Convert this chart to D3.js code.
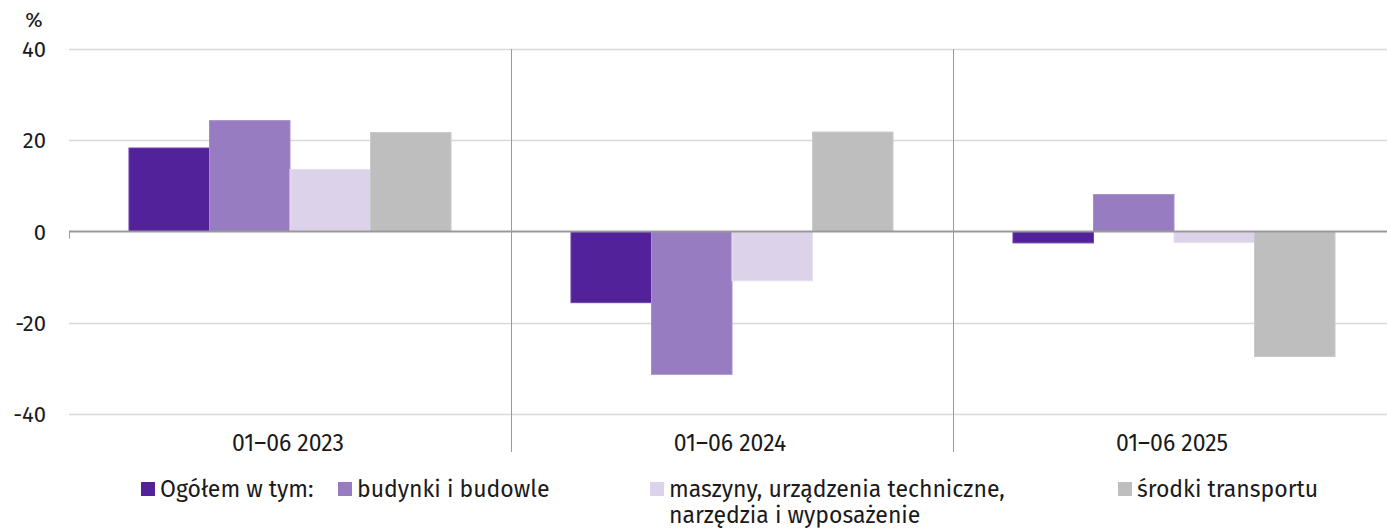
<!DOCTYPE html>
<html>
<head>
<meta charset="utf-8">
<script src="https://cdn.jsdelivr.net/npm/d3@7"></script>
<style>
  body { margin: 0; background: #fff; }
  text { font-family: "Fira Sans", Roboto, "Noto Sans", sans-serif; fill: #1a1a1a; }
</style>
</head>
<body>
<div id="chart"></div>
<script>
// data
let categories = ["01\u201306 2023", "01\u201306 2024", "01\u201306 2025"];
let seriesNames = ["Ogółem w tym:", "budynki i budowle", "maszyny, urządzenia techniczne,|narzędzia i wyposażenie", "środki transportu"];
let ogolem = [18.3, -15.6, -2.5];
let budynki = [24.3, -31.3, 8.1];
let maszyny = [13.6, -10.8, -2.4];
let transport = [21.7, 21.8, -27.4];
let yTicks = [-40, -20, 0, 20, 40];

let colors = ["#52229a", "#977cc1", "#dcd3ea", "#bebebe"];
let strokes = ["#6f45ad", "#a58fcb", "#e6dff0", "#cacaca"];

let allSeries = [ogolem, budynki, maszyny, transport];

let width = 1387, height = 528;
let margin = {left: 69, right: -8, top: 49};

let svg = d3.select("#chart").append("svg")
    .attr("width", width)
    .attr("height", height);

let x = d3.scaleBand()
    .domain(categories)
    .range([margin.left, width - margin.right])
    .paddingInner(0)
    .paddingOuter(0);

let x1 = d3.scaleBand()
    .domain(d3.range(allSeries.length))
    .range([0, x.bandwidth()])
    .paddingOuter(0.745)
    .paddingInner(0);

let y = d3.scaleLinear()
    .domain([-40, 40])
    .range([414, 49]);

// gridlines
svg.append("g")
    .selectAll("line")
    .data(yTicks.filter(d => d !== 0))
    .enter().append("line")
    .attr("x1", margin.left)
    .attr("x2", width)
    .attr("y1", d => Math.round(y(d)) + 0.5)
    .attr("y2", d => Math.round(y(d)) + 0.5)
    .attr("stroke", "#d9d9d9")
    .attr("stroke-width", 1.3);

// y tick labels
svg.append("g")
    .selectAll("text")
    .data(yTicks)
    .enter().append("text")
    .attr("x", 46)
    .attr("y", d => y(d) + 8)
    .attr("text-anchor", "end")
    .style("font-size", "22px")
    .text(d => d);

svg.append("text")
    .attr("x", 34)
    .attr("y", 27)
    .attr("text-anchor", "middle")
    .style("font-size", "21px")
    .text("%");

// group dividers
svg.append("g")
    .selectAll("line")
    .data(categories.slice(1))
    .enter().append("line")
    .attr("x1", d => Math.round(x(d)) + 0.5)
    .attr("x2", d => Math.round(x(d)) + 0.5)
    .attr("y1", y(40))
    .attr("y2", 452)
    .attr("stroke", "#9a9a9a")
    .attr("stroke-width", 1);

// bars
let groups = svg.append("g")
    .selectAll("g")
    .data(categories)
    .enter().append("g")
    .attr("transform", d => "translate(" + x(d) + ",0)");

groups.selectAll("rect")
    .data((d, i) => allSeries.map((s, k) => ({k: k, v: s[i]})))
    .enter().append("rect")
    .attr("x", d => x1(d.k))
    .attr("width", x1.bandwidth())
    .attr("y", d => y(Math.max(0, d.v)))
    .attr("height", d => Math.abs(y(d.v) - y(0)))
    .attr("fill", d => colors[d.k])
    .attr("stroke", d => strokes[d.k])
    .attr("stroke-width", 1);

// zero line
svg.append("line")
    .attr("x1", margin.left)
    .attr("x2", width)
    .attr("y1", y(0))
    .attr("y2", y(0))
    .attr("stroke", "#999")
    .attr("stroke-width", 2);

svg.append("line")
    .attr("x1", margin.left + 0.5)
    .attr("x2", margin.left + 0.5)
    .attr("y1", y(0))
    .attr("y2", y(0) + 7)
    .attr("stroke", "#999");

// category labels
svg.append("g")
    .selectAll("text")
    .data(categories)
    .enter().append("text")
    .attr("x", d => x(d) + x.bandwidth() / 2 - 2)
    .attr("y", 451)
    .attr("text-anchor", "middle")
    .style("font-size", "23px")
    .text(d => d);

// legend
let legendX = [141, 338, 650, 1118];
let legend = svg.append("g")
    .selectAll("g")
    .data(seriesNames)
    .enter().append("g")
    .attr("transform", (d, i) => "translate(" + legendX[i] + ",482)");

legend.append("rect")
    .attr("width", 14)
    .attr("height", 14)
    .attr("fill", (d, i) => colors[i]);

legend.append("text")
    .attr("x", 19)
    .attr("y", 15)
    .style("font-size", "23px")
    .selectAll("tspan")
    .data(d => d.split("|"))
    .enter().append("tspan")
    .attr("x", 19)
    .attr("dy", (d, i) => i === 0 ? 0 : 26)
    .text(d => d);
</script>
</body>
</html>
